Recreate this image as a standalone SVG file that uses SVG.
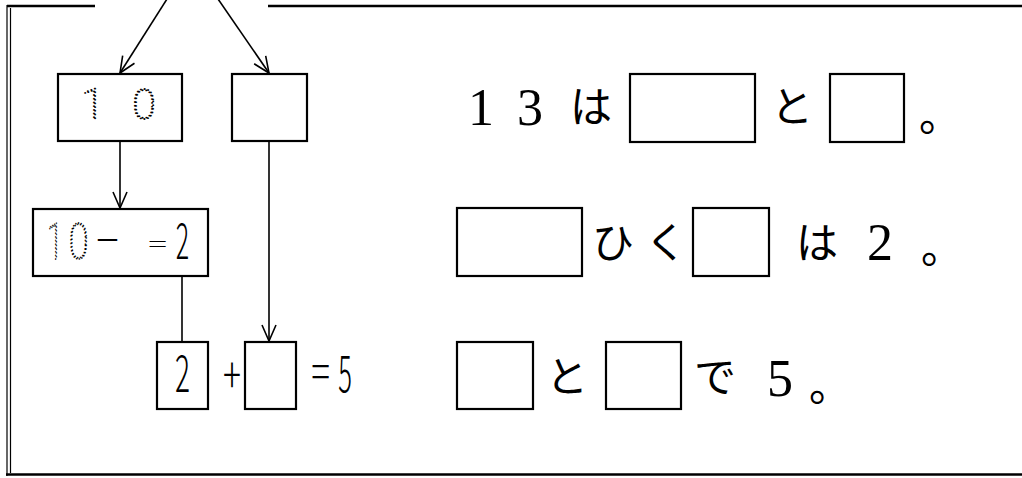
<svg xmlns="http://www.w3.org/2000/svg" width="1022" height="478" viewBox="0 0 1022 478">
<defs>
<style>
.box{fill:#fff;stroke:#000;stroke-width:2.2}
.ln{fill:none;stroke:#000;stroke-width:1.6}
.frame{fill:none;stroke:#000;stroke-width:2.4}
.thin{fill:none;stroke:#000;stroke-width:1.2}
.g{font-family:"Noto Sans CJK JP","Liberation Sans",sans-serif;font-weight:300;fill:#000;text-anchor:middle}
.dot{font-family:Roboto,"Liberation Sans",sans-serif;font-weight:100;fill:none;stroke:#000;stroke-width:1.8;stroke-dasharray:0.1 3.6;stroke-linecap:round;text-anchor:middle}
.num{font-family:"Liberation Serif","DejaVu Serif",serif;font-size:52px;fill:#000;text-anchor:middle}
.kana{font-family:"Noto Sans CJK JP","Noto Sans CJK SC",sans-serif;font-size:42px;font-weight:400;fill:#000;text-anchor:middle}
</style>
<marker id="ah" viewBox="-18 -9 20 18" refX="0" refY="0" markerWidth="20" markerHeight="18" markerUnits="userSpaceOnUse" orient="auto">
<path d="M-16,-7 L0,0 L-16,7" fill="none" stroke="#000" stroke-width="1.6"/>
</marker>
</defs>
<g id="frame">
<line class="frame" x1="7" y1="6" x2="95" y2="6"/>
<line class="frame" x1="268" y1="6" x2="1022" y2="6"/>
<line class="thin" x1="7" y1="5" x2="7" y2="476"/>
<line class="thin" x1="10.5" y1="8" x2="10.5" y2="473"/>
<line class="frame" x1="6" y1="474.5" x2="1022" y2="474.5"/>
</g>
<g id="connectors">
<line class="ln" x1="167" y1="-1" x2="120" y2="73" marker-end="url(#ah)"/>
<line class="ln" x1="218" y1="-1" x2="269" y2="73" marker-end="url(#ah)"/>
<line class="ln" x1="120" y1="141" x2="120" y2="208" marker-end="url(#ah)"/>
<line class="ln" x1="269" y1="141" x2="269" y2="341" marker-end="url(#ah)"/>
<line class="ln" x1="182" y1="276" x2="182" y2="342"/>
</g>
<g id="node-ten">
<rect class="box" x="58" y="74" width="124" height="67"/>
<text class="dot" x="93" y="119" font-size="43">1</text>
<text class="dot" x="144" y="119" font-size="43">0</text>
</g>
<g id="node-blank-top">
<rect class="box" x="232" y="74" width="75" height="67"/>
</g>
<g id="node-subtract">
<rect class="box" x="33" y="209" width="175" height="67"/>
<text class="dot" font-size="50" transform="translate(55,259) scale(0.6,1)">1</text>
<text class="dot" font-size="50" transform="translate(78.5,259) scale(0.72,1)">0</text>
<text class="g" font-size="42" transform="translate(107.5,255)">−</text>
<text class="g" font-size="50" transform="translate(157.5,244.5) scale(0.7,0.45)" y="17">=</text>
<text class="g" font-size="50" transform="translate(182.5,259) scale(0.5,1)">2</text>
</g>
<g id="node-two">
<rect class="box" x="157" y="342" width="51" height="67"/>
<text class="g" font-size="51" transform="translate(182.5,392) scale(0.55,1)">2</text>
</g>
<text class="g" font-size="56" transform="translate(232,393) scale(0.6,0.9)">+</text>
<text class="g" font-size="50" transform="translate(320.5,390) scale(0.7,1)">=</text>
<text class="g" font-size="51" transform="translate(345,392) scale(0.5,1)">5</text>
<g id="node-blank-bottom">
<rect class="box" x="245" y="342" width="51" height="67"/>
</g>
<g id="row1">
<text class="num" x="481" y="125">1</text>
<text class="num" x="530" y="125">3</text>
<text class="kana" x="591" y="122">は</text>
<rect class="box" x="630" y="74" width="125" height="68"/>
<text class="kana" x="792" y="122">と</text>
<rect class="box" x="830" y="74" width="74" height="68"/>
<text class="kana" x="940" y="131">。</text>
</g>
<g id="row2">
<rect class="box" x="457" y="208" width="125" height="68"/>
<text class="kana" x="613" y="258">ひ</text>
<text class="kana" x="666" y="258">く</text>
<rect class="box" x="693" y="208" width="76" height="68"/>
<text class="kana" x="817" y="258">は</text>
<text class="num" x="880" y="260">2</text>
<text class="kana" x="942" y="263">。</text>
</g>
<g id="row3">
<rect class="box" x="457" y="342" width="76" height="67"/>
<text class="kana" x="567" y="392">と</text>
<rect class="box" x="606" y="342" width="75" height="67"/>
<text class="kana" x="715" y="392">で</text>
<text class="num" x="780" y="396">5</text>
<text class="kana" x="830" y="401">。</text>
</g>
</svg>
